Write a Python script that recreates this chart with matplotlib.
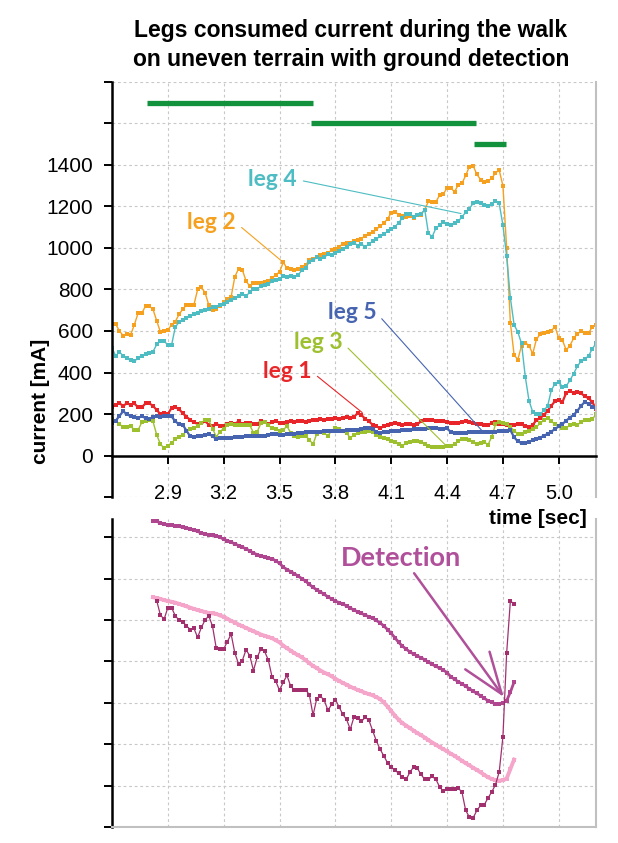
import numpy as np
import matplotlib
matplotlib.use('Agg')
import matplotlib.pyplot as plt
import matplotlib.ticker as ticker

plt.rcParams['font.family'] = ['Liberation Sans', 'DejaVu Sans']

# ---- data: upper chart (current, mA), sampled every 0.02 s from 2.60 to 5.20
time_top = np.round(np.arange(2.60, 5.2001, 0.02), 2)

leg1 = [235, 245, 251, 240, 251, 245, 251, 232, 232, 251, 251, 240, 219, 200, 203, 200, 229, 232, 224, 203,
        187, 171, 160, 152, 155, 165, 149, 144, 152, 144, 144, 152, 155, 152, 165, 152, 155, 155, 150, 152,
        165, 160, 152, 160, 165, 158, 156, 162, 165, 160, 166, 168, 163, 168, 172, 170, 175, 173, 176, 178,
        181, 178, 182, 184, 180, 186, 205, 195, 177, 165, 148, 140, 132, 140, 148, 150, 156, 150, 148, 152,
        150, 148, 150, 165, 170, 173, 170, 168, 168, 165, 161, 158, 156, 156, 160, 168, 160, 156, 152, 152,
        148, 148, 155, 161, 152, 150, 148, 148, 148, 150, 150, 140, 135, 148, 170, 180, 195, 216, 240, 262,
        268, 258, 302, 310, 302, 305, 300, 285, 276, 258, 225]

leg2 = [633, 633, 600, 578, 585, 581, 630, 686, 686, 720, 720, 705, 650, 595, 600, 605, 630, 645, 680, 705,
        725, 727, 726, 800, 810, 785, 725, 703, 708, 720, 738, 752, 765, 862, 900, 895, 842, 815, 830, 830,
        832, 838, 843, 856, 870, 885, 931, 903, 898, 892, 897, 908, 920, 940, 945, 955, 968, 973, 978, 988,
        997, 1007, 1020, 1024, 1022, 1033, 1040, 1045, 1060, 1068, 1075, 1090, 1105, 1120, 1140, 1170, 1175, 1160, 1153, 1148,
        1152, 1146, 1160, 1160, 1185, 1225, 1220, 1222, 1255, 1260, 1290, 1290, 1270, 1305, 1311, 1350, 1392, 1396, 1355, 1330,
        1320, 1324, 1335, 1362, 1375, 1300, 1000, 640, 485, 462, 530, 544, 530, 490, 560, 585, 592, 597, 602, 620,
        565, 555, 508, 530, 565, 585, 600, 590, 590, 620, 630]

leg3 = [177, 168, 152, 136, 136, 140, 125, 122, 160, 167, 170, 165, 100, 55, 35, 48, 60, 80, 87, 98,
        120, 130, 134, 140, 158, 172, 170, 130, 90, 115, 130, 145, 150, 148, 148, 146, 146, 146, 110, 115,
        155, 160, 145, 132, 126, 118, 125, 140, 110, 92, 88, 92, 96, 75, 55, 105, 112, 108, 95, 120,
        132, 130, 120, 110, 84, 100, 110, 113, 113, 116, 115, 98, 87, 85, 80, 72, 64, 56, 48, 58,
        65, 70, 68, 65, 55, 45, 40, 39, 39, 39, 44, 48, 54, 70, 81, 81, 75, 64, 56, 60,
        65, 52, 90, 150, 162, 156, 150, 138, 120, 104, 102, 112, 120, 128, 138, 155, 170, 182, 165, 150,
        140, 132, 134, 145, 150, 148, 160, 170, 173, 175, 198]

leg4 = [519, 479, 500, 479, 468, 458, 455, 468, 479, 487, 492, 500, 535, 552, 552, 532, 532, 619, 642, 652,
        661, 671, 681, 689, 697, 702, 708, 718, 718, 726, 732, 739, 748, 758, 769, 777, 769, 786, 802, 802,
        816, 823, 826, 839, 845, 850, 866, 858, 864, 862, 870, 893, 905, 933, 940, 955, 947, 955, 969, 968,
        976, 985, 995, 1005, 1018, 1025, 1012, 1019, 1006, 1019, 1033, 1044, 1056, 1066, 1080, 1090, 1102, 1122, 1145, 1162,
        1165, 1150, 1157, 1165, 1185, 1070, 1055, 1095, 1110, 1125, 1115, 1110, 1120, 1128, 1150, 1172, 1190, 1215, 1220, 1216,
        1205, 1200, 1212, 1226, 1215, 1110, 960, 760, 630, 595, 540, 380, 265, 210, 200, 198, 218, 238, 315, 346,
        356, 330, 335, 362, 395, 430, 455, 465, 480, 514, 540]

leg5 = [156, 168, 190, 214, 198, 190, 184, 182, 188, 181, 178, 184, 188, 184, 188, 192, 188, 165, 150, 148,
        120, 92, 88, 92, 96, 100, 102, 94, 78, 82, 84, 85, 86, 87, 87, 89, 92, 92, 92, 92,
        94, 96, 99, 103, 103, 99, 100, 102, 103, 105, 107, 109, 111, 113, 114, 115, 115, 116, 117, 118,
        118, 119, 119, 121, 122, 123, 125, 130, 132, 132, 130, 112, 110, 113, 114, 116, 119, 120, 121, 123,
        124, 126, 127, 129, 130, 131, 132, 132, 128, 128, 132, 112, 108, 108, 109, 110, 111, 113, 113, 113,
        113, 113, 114, 115, 116, 118, 120, 122, 88, 68, 60, 62, 66, 74, 80, 86, 95, 104, 115, 128,
        140, 152, 168, 183, 196, 215, 240, 258, 248, 236, 230]

# gait phases (green bars)
phase_start = [2.79, 3.67, 4.545]
phase_end = [3.68, 4.555, 4.715]
phase_level = [1700, 1600, 1500]

# ---- data: lower chart (no units shown)
time_bot = np.round(np.arange(2.82, 4.7601, 0.02), 2)
time_raw = np.round(np.arange(2.84, 4.7601, 0.02), 2)

filt_a = [7.40, 7.38, 7.35, 7.32, 7.30, 7.29, 7.28, 7.26, 7.24, 7.22,
          7.20, 7.17, 7.14, 7.10, 7.07, 7.06, 7.06, 7.04, 7.00, 6.95,
          6.92, 6.88, 6.84, 6.80, 6.76, 6.72, 6.67, 6.62, 6.58, 6.55,
          6.52, 6.50, 6.48, 6.43, 6.37, 6.28, 6.22, 6.17, 6.12, 6.06,
          6.00, 5.94, 5.86, 5.79, 5.73, 5.68, 5.62, 5.56, 5.51, 5.46,
          5.42, 5.39, 5.34, 5.29, 5.24, 5.20, 5.16, 5.12, 5.08, 5.04,
          4.99, 4.93, 4.86, 4.77, 4.68, 4.57, 4.46, 4.37, 4.30, 4.23,
          4.18, 4.13, 4.09, 4.04, 3.98, 3.93, 3.88, 3.84, 3.79, 3.73,
          3.63, 3.57, 3.51, 3.46, 3.40, 3.34, 3.28, 3.23, 3.17, 3.11,
          3.05, 3.01, 2.98, 2.98, 3.00, 3.05, 3.26, 3.50]

filt_b = [5.55, 5.53, 5.51, 5.48, 5.46, 5.44, 5.42, 5.39, 5.36, 5.33,
          5.30, 5.27, 5.24, 5.22, 5.19, 5.17, 5.16, 5.15, 5.11, 5.08,
          5.03, 4.98, 4.94, 4.89, 4.85, 4.81, 4.77, 4.73, 4.69, 4.65,
          4.62, 4.59, 4.56, 4.51, 4.46, 4.38, 4.32, 4.26, 4.20, 4.15,
          4.10, 4.03, 3.96, 3.89, 3.84, 3.78, 3.73, 3.69, 3.64, 3.58,
          3.53, 3.48, 3.44, 3.39, 3.35, 3.31, 3.28, 3.24, 3.21, 3.18,
          3.14, 3.09, 3.01, 2.91, 2.80, 2.69, 2.59, 2.51, 2.45, 2.39,
          2.33, 2.27, 2.22, 2.16, 2.10, 2.04, 1.99, 1.93, 1.88, 1.83,
          1.77, 1.72, 1.66, 1.60, 1.54, 1.49, 1.43, 1.38, 1.32, 1.26,
          1.20, 1.16, 1.13, 1.12, 1.13, 1.17, 1.40, 1.63]

raw = [5.47, 5.12, 5.02, 5.30, 5.30, 5.10, 5.00, 4.96, 4.86, 4.77,
       4.80, 4.58, 4.82, 5.00, 5.10, 4.85, 4.32, 4.29, 4.30, 4.48,
       4.66, 4.20, 3.94, 4.02, 4.28, 4.14, 3.78, 4.10, 4.30, 4.24,
       4.03, 3.62, 3.52, 3.30, 3.50, 3.66, 3.40, 3.31, 3.30, 3.30,
       3.31, 3.20, 2.70, 3.10, 3.16, 3.06, 2.82, 2.96, 3.08, 2.90,
       2.72, 2.60, 2.36, 2.66, 2.63, 2.55, 2.65, 2.58, 2.33, 2.08,
       1.88, 1.72, 1.55, 1.44, 1.37, 1.30, 1.20, 1.15, 1.32, 1.45,
       1.42, 1.27, 1.15, 1.15, 1.22, 1.15, 0.97, 0.86, 0.91, 0.93,
       0.91, 0.94, 0.84, 0.40, 0.24, 0.22, 0.40, 0.52, 0.54, 0.70,
       0.85, 1.02, 1.33, 2.18, 4.20, 5.46, 5.39]

xticks = [2.9, 3.2, 3.5, 3.8, 4.1, 4.4, 4.7, 5.0]

# colours
c_leg1 = '#e8262a'
c_leg2 = '#f5a11f'
c_leg3 = '#9dc02e'
c_leg4 = '#4dbdc3'
c_leg5 = '#4764b0'
c_phase = '#12923c'
c_filt_a = '#b0468f'
c_filt_b = '#f5a5c9'
c_raw = '#a2306f'
grey = '#c0c0c0'
gridc = '#c8c8c8'

fig = plt.figure(figsize=(6.18, 8.43), dpi=100)
ax1 = fig.add_axes([112/618, 1-497/843, 484/618, 415/843])
ax2 = fig.add_axes([112/618, 1-827/843, 484/618, 308.4/843])

# ---------------- upper chart
ax1.set_xlim(2.6, 5.2)
ax1.set_ylim(-200, 1800)
ax1.set_xticks(xticks)
ax1.xaxis.set_major_formatter(ticker.FormatStrFormatter('%.1f'))
ax1.set_yticks(range(-200, 1801, 200))
ax1.yaxis.set_major_formatter(ticker.FuncFormatter(
    lambda v, p: '%d' % v if 0 <= v <= 1400 else ''))
ax1.grid(True, color=gridc, linestyle=(0, (2.5, 2.5)), linewidth=0.8)
ax1.set_axisbelow(True)

ax1.spines['top'].set_visible(False)
ax1.spines['right'].set_color(grey)
ax1.spines['right'].set_linewidth(1.5)
ax1.spines['left'].set_linewidth(1.8)
ax1.spines['bottom'].set_position(('data', 0))
ax1.spines['bottom'].set_linewidth(1.8)
ax1.tick_params(axis='x', direction='out', length=5.8, width=1.4, pad=15, labelsize=14.5)
ax1.tick_params(axis='y', direction='out', length=5.8, width=1.4, pad=8, labelsize=15)

ax1.hlines(phase_level, phase_start, phase_end, color=c_phase, lw=3.8)

ax1.plot(time_top, leg1, color=c_leg1, lw=1.6, marker='s', ms=2.6, mew=0)
ax1.plot(time_top, leg2, color=c_leg2, lw=1.0, marker='s', ms=2.8, mew=0)
ax1.plot(time_top, leg3, color=c_leg3, lw=1.0, marker='s', ms=2.8, mew=0)
ax1.plot(time_top, leg4, color=c_leg4, lw=1.0, marker='s', ms=3.0, mew=0)
ax1.plot(time_top, leg5, color=c_leg5, lw=1.6, marker='s', ms=2.6, mew=0)

lab = dict(fontsize=16.5, fontweight='bold', family=['Lato', 'DejaVu Sans'], ha='right', va='center')
for txt, col, xy, xytext in [('leg 4', c_leg4, (4.475, 1166), (3.591, 1330)),
                             ('leg 2', c_leg2, (3.521, 930), (3.264, 1123)),
                             ('leg 5', c_leg5, (4.587, 120), (4.019, 689)),
                             ('leg 3', c_leg3, (4.394, 48), (3.837, 545)),
                             ('leg 1', c_leg1, (3.944, 207), (3.671, 405))]:
    ax1.annotate(txt, xy=xy, xytext=xytext, color=col, **lab,
                 arrowprops=dict(arrowstyle='-', color=col, lw=0.8,
                                 relpos=(1, 0.5), shrinkA=3, shrinkB=0))

# ---------------- lower chart
ax2.set_xlim(2.6, 5.2)
ax2.set_ylim(0, 7.45)
ax2.set_xticks(xticks)
ax2.set_yticks(range(0, 8))
ax2.tick_params(axis='x', length=0, labelbottom=False)
ax2.tick_params(axis='y', direction='out', length=5.8, width=1.4, labelleft=False)
ax2.grid(True, color=gridc, linestyle=(0, (2.5, 2.5)), linewidth=0.8)
ax2.set_axisbelow(True)
ax2.spines['top'].set_visible(False)
ax2.spines['left'].set_linewidth(1.8)
for s in ['right', 'bottom']:
    ax2.spines[s].set_color(grey)
    ax2.spines[s].set_linewidth(1.5)

ax2.plot(time_bot, filt_b, color=c_filt_b, lw=2.8, marker='s', ms=2.6, mew=0)
ax2.plot(time_bot, filt_a, color=c_filt_a, lw=2.0, marker='s', ms=2.4, mew=0)
ax2.plot(time_raw, raw, color=c_raw, lw=0.9, marker='s', ms=3.0, mew=0)

ax2.text(4.153, 6.5, 'Detection', color='#b0509a', fontsize=19.5, fontweight='bold',
         family=['Lato', 'DejaVu Sans'], ha='center', va='center')
ax2.annotate('', xy=(4.705, 3.14), xytext=(4.223, 6.13),
             arrowprops=dict(arrowstyle='->,head_length=29.8,head_width=10.8',
                             mutation_scale=1, color='#b0509a', lw=1.8,
                             shrinkA=0, shrinkB=0))

# ---------------- titles and labels
fig.text(351/618, 1-45/843, 'Legs consumed current during the walk\non uneven terrain with ground detection',
         ha='center', va='center', fontsize=16.5, fontweight='bold', linespacing=1.32)
fig.text(41/618, 1-401/843, 'current [mA]', rotation=90, ha='center', va='center',
         fontsize=15, fontweight='bold')
fig.text(587/618, 1-518/843, 'time [sec]', ha='right', va='center', fontsize=15, fontweight='bold')

fig.savefig('out.png', dpi=100, facecolor='white')
